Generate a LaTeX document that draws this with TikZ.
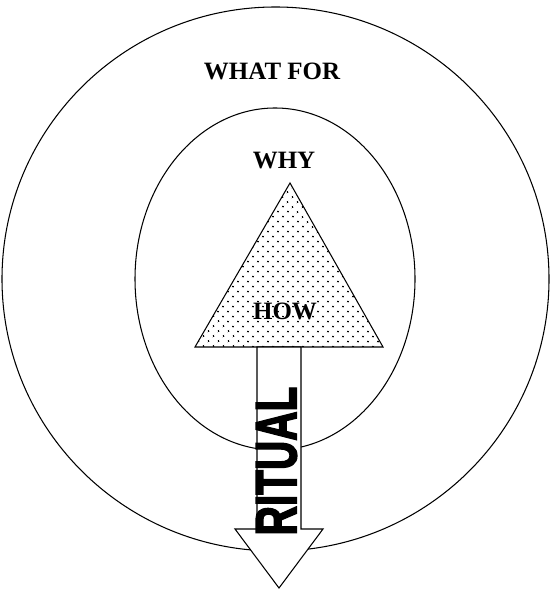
\documentclass[tikz,border=0pt]{standalone}
\usepackage{fontspec}
\setmainfont{Liberation Serif}
\newfontfamily\ritualfont[BoldFeatures={FakeBold=3}]{Liberation Sans}
\usetikzlibrary{patterns.meta}

\begin{document}
\begin{tikzpicture}[
    x=0.02cm, y=-0.02cm,
    line width=0.6pt,
    ring/.style  ={draw, black},
    label/.style ={font=\bfseries\fontsize{14.2}{16}\selectfont, inner sep=0pt},
    pyramid/.style={draw, pattern={Dots[distance=4pt, angle=45, radius=0.6pt]}},
    arrowbody/.style={draw, fill=white, line join=miter}
]
\useasboundingbox (0,0) rectangle (551,590);

% Circles
\draw[ring] (275.5,279) ellipse [x radius=273.5, y radius=272];
\draw[ring] (275,279) ellipse [x radius=140, y radius=171];

% Triangle
\coordinate (tl) at (195,347);
\coordinate (tr) at (383,347);
\coordinate (top) at (290,183);
\draw[pyramid] (tl) -- (tr) -- (top) -- cycle;

% Arrow down
\draw[arrowbody] (257,347) -- (301,347) -- (301,529) -- (323,529)
    -- (279,588) -- (235,529) -- (257,529) -- cycle;

% Labels
\node[label] (whatfor) at (272,71)  {WHAT FOR};
\node[label] (why)     at (284,161) {WHY};
\node[label] (how)     at (285,311) {HOW};
\node[inner sep=0pt, rotate=90] (ritual) at (276.5,461)
    {\scalebox{0.7}[1]{\ritualfont\bfseries\fontsize{33}{36}\selectfont RITUAL}};

\end{tikzpicture}
\end{document}
